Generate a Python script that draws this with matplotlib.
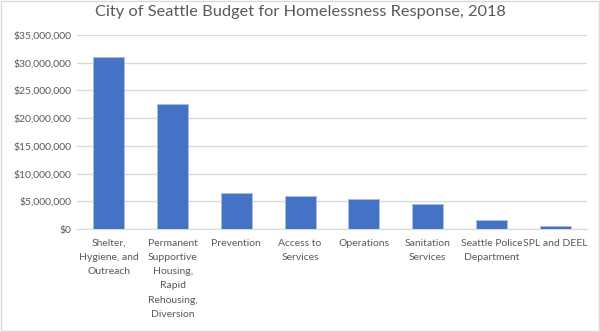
import matplotlib
matplotlib.use("Agg")
import matplotlib.pyplot as plt
from matplotlib.ticker import FuncFormatter, MultipleLocator

categories = [
    "Shelter,\nHygiene, and\nOutreach",
    "Permanent\nSupportive\nHousing,\nRapid\nRehousing,\nDiversion",
    "Prevention",
    "Access to\nServices",
    "Operations",
    "Sanitation\nServices",
    "Seattle Police\nDepartment",
    "SPL and DEEL",
]
budget = [31000000, 22500000, 6500000, 5950000, 5350000, 4450000, 1700000, 550000]

plt.rcParams['font.family'] = ['Lato', 'DejaVu Sans']

fig = plt.figure(figsize=(6, 3.32), dpi=100)
ax = fig.add_axes([77/600, 1 - 229/332, (587 - 77)/600, (229 - 35)/332])

x = list(range(len(categories)))
ax.bar(x, budget, width=0.49, color='#4472C4', edgecolor='#A9BEE6', linewidth=0.6, zorder=3)

ax.set_ylim(0, 35000000)
ax.set_xlim(-0.5, 7.5)
ax.yaxis.set_major_locator(MultipleLocator(5000000))
ax.yaxis.set_major_formatter(FuncFormatter(lambda v, p: "${:,.0f}".format(v)))
ax.grid(axis='y', color='#D9D9D9', linewidth=1, zorder=0)

for s in ['top', 'right', 'left']:
    ax.spines[s].set_visible(False)
ax.spines['bottom'].set_color('#D9D9D9')
ax.tick_params(axis='both', length=0, labelsize=7.5, colors='#595959')
ax.tick_params(axis='y', pad=4)
ax.tick_params(axis='x', pad=7)
ax.set_xticks(x)
ax.set_xticklabels(categories, linespacing=1.75)

fig.text(0.5, 1 - 12/332, "City of Seattle Budget for Homelessness Response, 2018",
         ha='center', va='center', fontsize=11.8, color='#595959')

fig.patches.append(plt.Rectangle((0.001, 0.002), 0.997, 0.995, transform=fig.transFigure,
                                 fill=False, edgecolor='#D9D9D9', linewidth=1))

fig.savefig("out.png", dpi=100)
